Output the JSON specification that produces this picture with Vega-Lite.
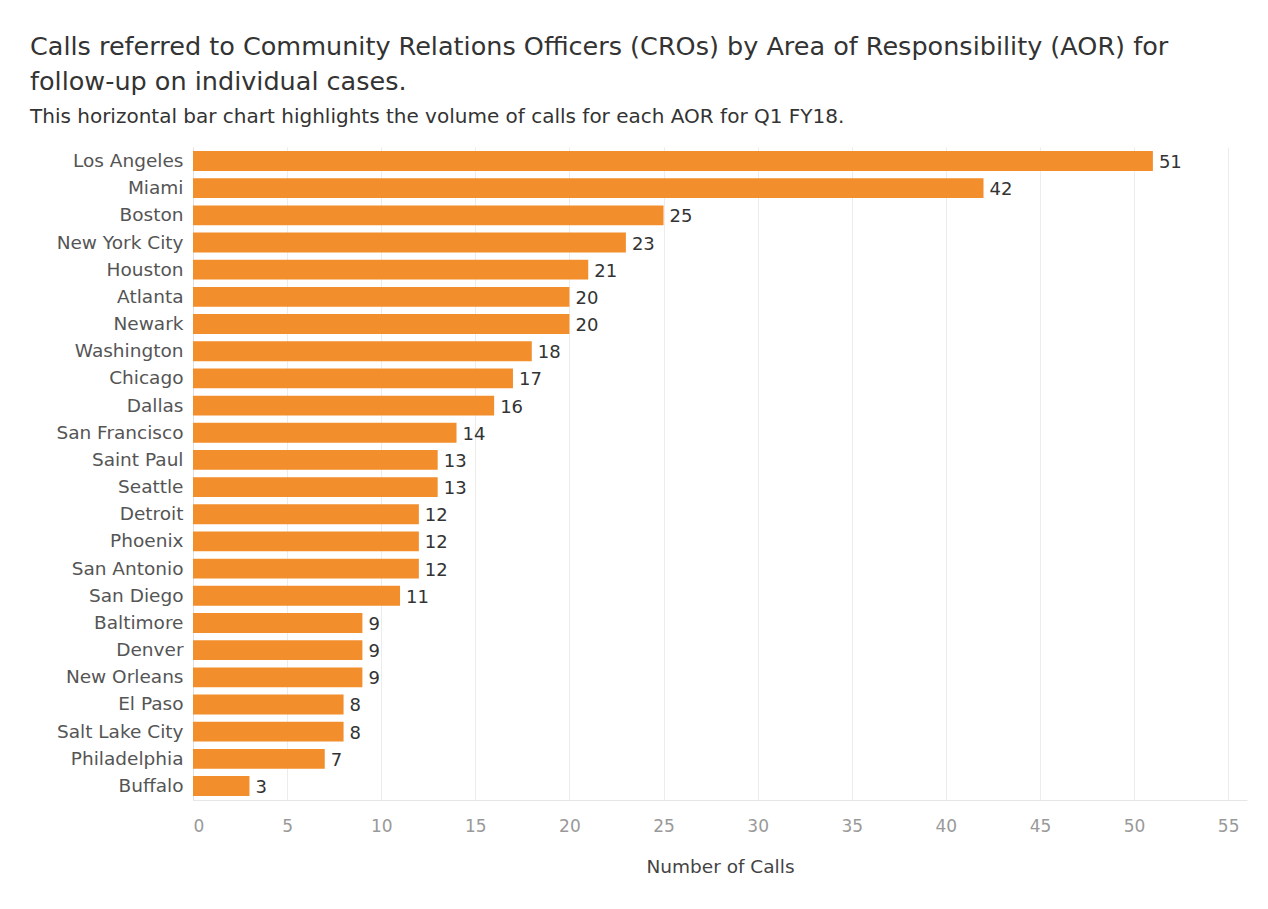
{
  "$schema": "https://vega.github.io/schema/vega-lite/v6.json",
  "autosize": "none",
  "width": 1054,
  "height": 653,
  "padding": {"left": 193, "top": 147, "right": 21, "bottom": 109},
  "background": "white",
  "title": {
    "text": ["Calls referred to Community Relations Officers (CROs) by Area of Responsibility (AOR) for", "follow-up on individual cases."],
    "subtitle": "This horizontal bar chart highlights the volume of calls for each AOR for Q1 FY18.",
    "anchor": "start",
    "frame": "group",
    "dx": -163,
    "offset": 20,
    "font": "DejaVu Sans",
    "fontSize": 25.5,
    "fontWeight": "normal",
    "color": "#333333",
    "lineHeight": 35,
    "subtitleFont": "DejaVu Sans",
    "subtitleFontSize": 20,
    "subtitleColor": "#333333",
    "subtitlePadding": 12
  },
  "data": {
    "values": [
      {"aor": "Los Angeles", "calls": 51},
      {"aor": "Miami", "calls": 42},
      {"aor": "Boston", "calls": 25},
      {"aor": "New York City", "calls": 23},
      {"aor": "Houston", "calls": 21},
      {"aor": "Atlanta", "calls": 20},
      {"aor": "Newark", "calls": 20},
      {"aor": "Washington", "calls": 18},
      {"aor": "Chicago", "calls": 17},
      {"aor": "Dallas", "calls": 16},
      {"aor": "San Francisco", "calls": 14},
      {"aor": "Saint Paul", "calls": 13},
      {"aor": "Seattle", "calls": 13},
      {"aor": "Detroit", "calls": 12},
      {"aor": "Phoenix", "calls": 12},
      {"aor": "San Antonio", "calls": 12},
      {"aor": "San Diego", "calls": 11},
      {"aor": "Baltimore", "calls": 9},
      {"aor": "Denver", "calls": 9},
      {"aor": "New Orleans", "calls": 9},
      {"aor": "El Paso", "calls": 8},
      {"aor": "Salt Lake City", "calls": 8},
      {"aor": "Philadelphia", "calls": 7},
      {"aor": "Buffalo", "calls": 3}
    ]
  },
  "encoding": {
    "y": {
      "field": "aor",
      "type": "nominal",
      "sort": null,
      "title": null,
      "scale": {"paddingInner": 0.27, "paddingOuter": 0.15},
      "axis": {
        "ticks": false,
        "domain": true,
        "domainColor": "#e0e0e0",
        "labelFont": "DejaVu Sans",
        "labelFontSize": 18.5,
        "labelColor": "#555555",
        "labelPadding": 10
      }
    },
    "x": {
      "field": "calls",
      "type": "quantitative",
      "title": "Number of Calls",
      "scale": {"domain": [0, 56], "nice": false},
      "axis": {
        "values": [0, 5, 10, 15, 20, 25, 30, 35, 40, 45, 50, 55],
        "grid": true,
        "gridColor": "#ececec",
        "ticks": false,
        "domain": true,
        "domainColor": "#e6e6e6",
        "labelFont": "DejaVu Sans",
        "labelFontSize": 17,
        "labelColor": "#999999",
        "labelPadding": 18,
        "titleFont": "DejaVu Sans",
        "titleFontSize": 18.5,
        "titleFontWeight": "normal",
        "titleColor": "#444444",
        "titlePadding": 23
      }
    }
  },
  "layer": [
    {"mark": {"type": "bar", "color": "#F28E2B"}},
    {
      "mark": {"type": "text", "align": "left", "dx": 6, "dy": 2, "font": "DejaVu Sans", "fontSize": 18, "color": "#333333"},
      "encoding": {"text": {"field": "calls", "type": "quantitative"}}
    }
  ],
  "config": {"view": {"stroke": null}}
}
